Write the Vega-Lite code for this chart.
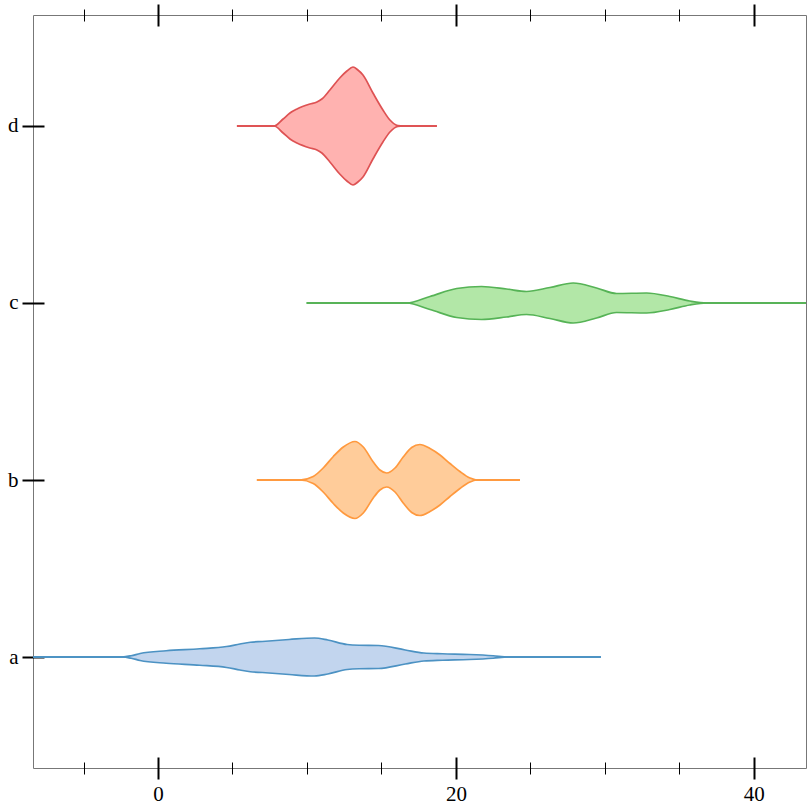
{
  "$schema": "https://vega.github.io/schema/vega-lite/v6.json",
  "width": 773,
  "height": 753,
  "autosize": {"type": "none"},
  "padding": {"left": 33, "top": 15, "right": 6, "bottom": 44},
  "background": "white",
  "config": {
    "view": {"stroke": "#777777", "strokeWidth": 1},
    "axis": {"labelFont": "Liberation Serif", "labelFontSize": 21, "labelColor": "black", "domain": false, "grid": false, "tickColor": "black", "title": null, "labelFlush": false}
  },
  "data": {"values": [
    {"g": "a", "x": -8.39, "w": 0}, {"g": "a", "x": -2.4, "w": 0}, {"g": "a", "x": -1.8, "w": 2.5}, {"g": "a", "x": -1.2, "w": 7},
    {"g": "a", "x": 0.55, "w": 12.5}, {"g": "a", "x": 2.8, "w": 16.5}, {"g": "a", "x": 4.6, "w": 21}, {"g": "a", "x": 5.5, "w": 26},
    {"g": "a", "x": 6.2, "w": 29.5}, {"g": "a", "x": 7, "w": 31}, {"g": "a", "x": 8.8, "w": 35}, {"g": "a", "x": 10.5, "w": 38},
    {"g": "a", "x": 11.4, "w": 34}, {"g": "a", "x": 12.7, "w": 25}, {"g": "a", "x": 13.5, "w": 23.5}, {"g": "a", "x": 14.8, "w": 23},
    {"g": "a", "x": 16.6, "w": 14}, {"g": "a", "x": 17.85, "w": 8}, {"g": "a", "x": 19.1, "w": 6.5}, {"g": "a", "x": 20.9, "w": 5},
    {"g": "a", "x": 22.5, "w": 2.5}, {"g": "a", "x": 23.5, "w": 0}, {"g": "a", "x": 29.73, "w": 0},

    {"g": "b", "x": 6.64, "w": 0}, {"g": "b", "x": 9.53, "w": 0}, {"g": "b", "x": 10.42, "w": 7}, {"g": "b", "x": 11.09, "w": 24},
    {"g": "b", "x": 11.77, "w": 47}, {"g": "b", "x": 12.44, "w": 66}, {"g": "b", "x": 13.22, "w": 77}, {"g": "b", "x": 13.78, "w": 66},
    {"g": "b", "x": 14.45, "w": 36}, {"g": "b", "x": 14.9, "w": 20}, {"g": "b", "x": 15.35, "w": 14}, {"g": "b", "x": 15.91, "w": 24},
    {"g": "b", "x": 16.46, "w": 46}, {"g": "b", "x": 17.03, "w": 65}, {"g": "b", "x": 17.58, "w": 71}, {"g": "b", "x": 18.26, "w": 63},
    {"g": "b", "x": 18.93, "w": 50}, {"g": "b", "x": 19.6, "w": 33}, {"g": "b", "x": 20.27, "w": 17}, {"g": "b", "x": 20.94, "w": 4},
    {"g": "b", "x": 21.39, "w": 0}, {"g": "b", "x": 24.3, "w": 0},

    {"g": "c", "x": 9.98, "w": 0}, {"g": "c", "x": 16.69, "w": 0}, {"g": "c", "x": 18.26, "w": 13}, {"g": "c", "x": 20.05, "w": 29},
    {"g": "c", "x": 21.72, "w": 33}, {"g": "c", "x": 23.4, "w": 28}, {"g": "c", "x": 24.74, "w": 23}, {"g": "c", "x": 26.31, "w": 31},
    {"g": "c", "x": 27.87, "w": 40}, {"g": "c", "x": 29.44, "w": 30}, {"g": "c", "x": 30.78, "w": 19}, {"g": "c", "x": 32.8, "w": 20},
    {"g": "c", "x": 34.36, "w": 13}, {"g": "c", "x": 35.7, "w": 4}, {"g": "c", "x": 36.83, "w": 0}, {"g": "c", "x": 43.5, "w": 0},

    {"g": "d", "x": 5.3, "w": 0}, {"g": "d", "x": 7.8, "w": 0}, {"g": "d", "x": 8.4, "w": 14}, {"g": "d", "x": 8.86, "w": 26},
    {"g": "d", "x": 9.33, "w": 34}, {"g": "d", "x": 10.2, "w": 44}, {"g": "d", "x": 10.67, "w": 48}, {"g": "d", "x": 11.0, "w": 54},
    {"g": "d", "x": 11.54, "w": 72}, {"g": "d", "x": 12.2, "w": 96}, {"g": "d", "x": 12.68, "w": 110}, {"g": "d", "x": 13.09, "w": 118},
    {"g": "d", "x": 13.42, "w": 112}, {"g": "d", "x": 13.76, "w": 102}, {"g": "d", "x": 14.43, "w": 66}, {"g": "d", "x": 15.1, "w": 32},
    {"g": "d", "x": 15.57, "w": 12}, {"g": "d", "x": 16.1, "w": 1}, {"g": "d", "x": 16.5, "w": 0}, {"g": "d", "x": 18.72, "w": 0}
  ]},
  "layer": [
    {
      "mark": {"type": "line", "strokeWidth": 1.7, "clip": true},
      "encoding": {
        "x": {"field": "x", "type": "quantitative", "scale": {"domain": [-8.39, 43.5], "nice": false, "zero": false},
          "axis": {"orient": "bottom", "values": [0, 20, 40], "offset": -11, "tickSize": 22, "tickWidth": 2, "labelPadding": 4}},
        "y": {"field": "g", "type": "nominal", "scale": {"type": "point", "domain": ["d", "c", "b", "a"], "padding": 0.627},
          "axis": {"orient": "left", "offset": -11, "tickSize": 22, "tickWidth": 2, "labelPadding": 4}},
        "color": {"field": "g", "type": "nominal", "scale": {"domain": ["a", "b", "c", "d"], "range": ["#4c92c3", "#ff993e", "#56b356", "#de5253"]}, "legend": null}
      }
    },
    {
      "transform": [{"filter": "datum.g === 'a'"}],
      "mark": {"type": "area", "interpolate": "monotone", "color": "#c2d5ee", "opacity": 1, "clip": true, "line": {"color": "#4c92c3", "strokeWidth": 1.7}},
      "encoding": {
        "x": {"field": "x", "type": "quantitative", "axis": {"orient": "bottom", "values": [-5, 5, 10, 15, 25, 30, 35], "offset": -6, "tickSize": 12, "tickWidth": 1, "labels": false}},
        "y": {"field": "w", "type": "quantitative", "scale": {"domain": [-222, 1284], "nice": false, "zero": false}, "axis": null},
        "y2": {"datum": 0}
      }
    },
    {
      "transform": [{"filter": "datum.g === 'a'"}],
      "mark": {"type": "area", "interpolate": "monotone", "color": "#c2d5ee", "opacity": 1, "clip": true, "line": {"color": "#4c92c3", "strokeWidth": 1.7}},
      "encoding": {
        "x": {"field": "x", "type": "quantitative", "axis": {"orient": "top", "values": [0, 20, 40], "offset": -11, "tickSize": 22, "tickWidth": 2, "labels": false}},
        "y": {"field": "w", "type": "quantitative", "scale": {"domain": [-1284, 222], "nice": false, "zero": false, "reverse": true}, "axis": null},
        "y2": {"datum": 0}
      }
    },
    {
      "transform": [{"filter": "datum.g === 'b'"}],
      "mark": {"type": "area", "interpolate": "monotone", "color": "#ffcc9a", "opacity": 1, "clip": true, "line": {"color": "#ff993e", "strokeWidth": 1.7}},
      "encoding": {
        "x": {"field": "x", "type": "quantitative", "axis": {"orient": "top", "values": [-5, 5, 10, 15, 25, 30, 35], "offset": -6, "tickSize": 12, "tickWidth": 1, "labels": false}},
        "y": {"field": "w", "type": "quantitative", "scale": {"domain": [-576, 930], "nice": false, "zero": false}, "axis": null},
        "y2": {"datum": 0}
      }
    },
    {
      "transform": [{"filter": "datum.g === 'b'"}],
      "mark": {"type": "area", "interpolate": "monotone", "color": "#ffcc9a", "opacity": 1, "clip": true, "line": {"color": "#ff993e", "strokeWidth": 1.7}},
      "encoding": {
        "x": {"field": "x", "type": "quantitative", "axis": null},
        "y": {"field": "w", "type": "quantitative", "scale": {"domain": [-930, 576], "nice": false, "zero": false, "reverse": true}, "axis": null},
        "y2": {"datum": 0}
      }
    },
    {
      "transform": [{"filter": "datum.g === 'c'"}],
      "mark": {"type": "area", "interpolate": "monotone", "color": "#b2e7a7", "opacity": 1, "clip": true, "line": {"color": "#56b356", "strokeWidth": 1.7}},
      "encoding": {
        "x": {"field": "x", "type": "quantitative", "axis": null},
        "y": {"field": "w", "type": "quantitative", "scale": {"domain": [-930, 576], "nice": false, "zero": false}, "axis": null},
        "y2": {"datum": 0}
      }
    },
    {
      "transform": [{"filter": "datum.g === 'c'"}],
      "mark": {"type": "area", "interpolate": "monotone", "color": "#b2e7a7", "opacity": 1, "clip": true, "line": {"color": "#56b356", "strokeWidth": 1.7}},
      "encoding": {
        "x": {"field": "x", "type": "quantitative", "axis": null},
        "y": {"field": "w", "type": "quantitative", "scale": {"domain": [-576, 930], "nice": false, "zero": false, "reverse": true}, "axis": null},
        "y2": {"datum": 0}
      }
    },
    {
      "transform": [{"filter": "datum.g === 'd'"}],
      "mark": {"type": "area", "interpolate": "monotone", "color": "#ffb2b0", "opacity": 1, "clip": true, "line": {"color": "#de5253", "strokeWidth": 1.7}},
      "encoding": {
        "x": {"field": "x", "type": "quantitative", "axis": null},
        "y": {"field": "w", "type": "quantitative", "scale": {"domain": [-1284, 222], "nice": false, "zero": false}, "axis": null},
        "y2": {"datum": 0}
      }
    },
    {
      "transform": [{"filter": "datum.g === 'd'"}],
      "mark": {"type": "area", "interpolate": "monotone", "color": "#ffb2b0", "opacity": 1, "clip": true, "line": {"color": "#de5253", "strokeWidth": 1.7}},
      "encoding": {
        "x": {"field": "x", "type": "quantitative", "axis": null},
        "y": {"field": "w", "type": "quantitative", "scale": {"domain": [-222, 1284], "nice": false, "zero": false, "reverse": true}, "axis": null},
        "y2": {"datum": 0}
      }
    }
  ],
  "resolve": {"scale": {"y": "independent"}, "axis": {"x": "independent", "y": "independent"}}
}
